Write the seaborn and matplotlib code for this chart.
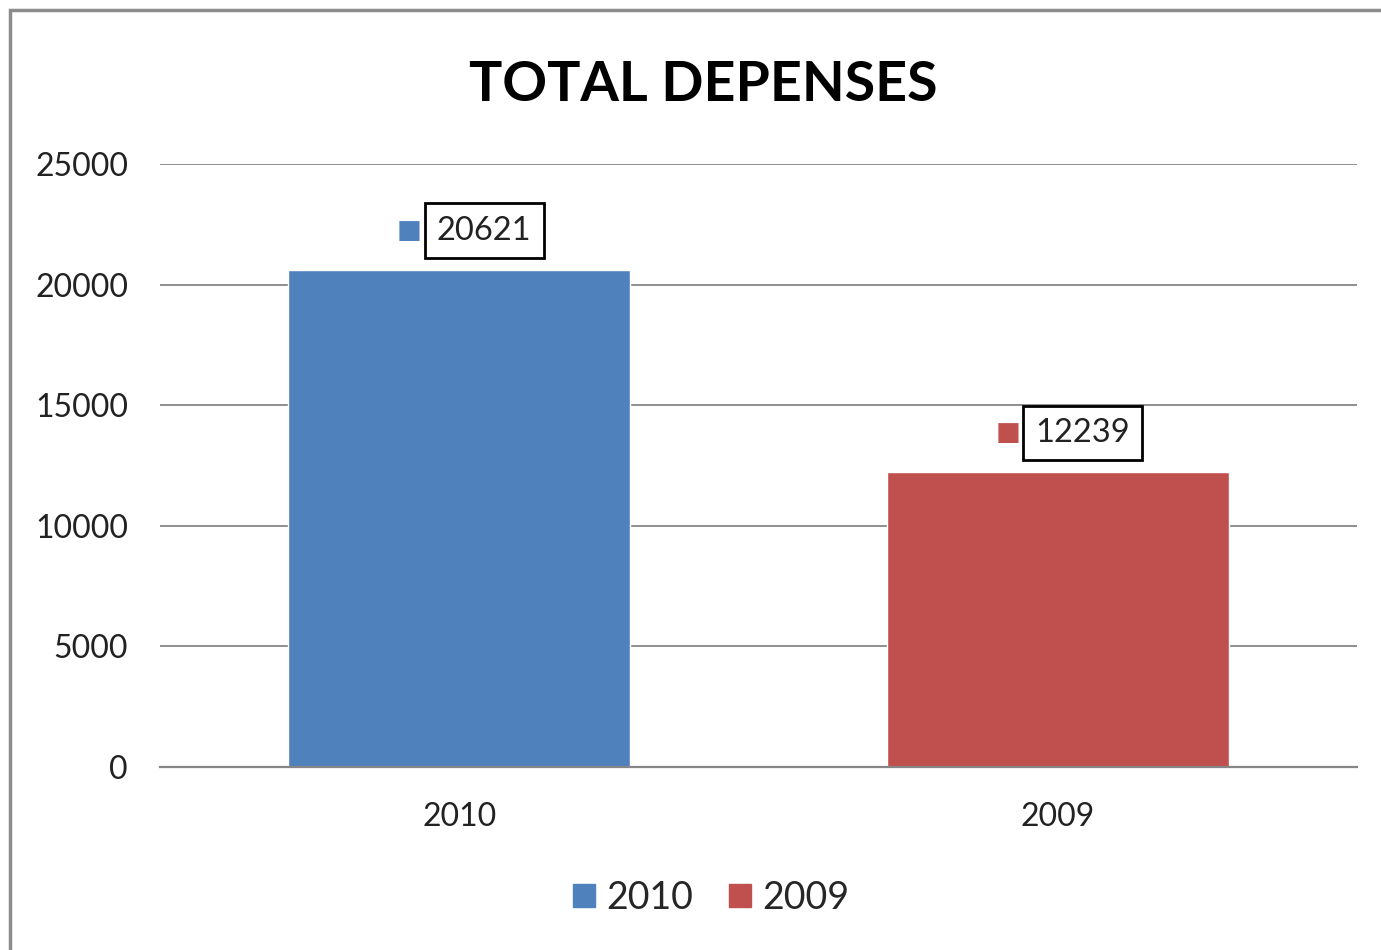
import seaborn as sns
import matplotlib.pyplot as plt
import pandas as pd
from matplotlib.patches import Rectangle

## Data
years = ['2010', '2009']
totals = [20621, 12239]
y_ticks = [0, 5000, 10000, 15000, 20000, 25000]

## Colors
colors = {'2010': '#4F81BD', '2009': '#C0504D'}
grid_color = '#868686'

df = pd.DataFrame({'annee': years, 'total': totals})

sns.set_style("white")
plt.rcParams['font.family'] = ['Lato', 'DejaVu Sans']

fig = plt.figure(figsize=(13.81, 9.5), dpi=100)
ax = fig.add_axes([0.1159, 0.1926, 0.8667, 0.6348])

sns.barplot(data=df, x='annee', y='total', hue='annee', palette=colors,
            width=0.571, dodge=False, legend=False, saturation=1, ax=ax)

ax.set_ylim(0, 25000)
ax.set_xlim(-0.5, 1.5)
ax.set_yticks(y_ticks)
ax.set_yticklabels([str(t) for t in y_ticks])
ax.yaxis.grid(True, color=grid_color, linewidth=1.3)
ax.set_axisbelow(True)
for side in ['left', 'right', 'top']:
    ax.spines[side].set_visible(False)
ax.spines['bottom'].set_color(grid_color)
ax.spines['bottom'].set_linewidth(1.6)
ax.tick_params(axis='both', length=0, labelsize=23, colors='#222222')
ax.tick_params(axis='y', pad=23)
ax.tick_params(axis='x', pad=25)
ax.set_xlabel('')
ax.set_ylabel('')

## Data labels (boxed value with legend key)
for i, (yr, val) in enumerate(zip(years, totals)):
    ax.annotate(str(val), xy=(i, val), xytext=(18, 28), textcoords='offset points',
                ha='center', va='center', fontsize=23.5, color='#222222',
                bbox=dict(boxstyle='square,pad=0.38', fc='white', ec='black', lw=2))
    ax.annotate('\u25A0', xy=(i, val), xytext=(-36, 28), textcoords='offset points',
                ha='center', va='center', fontsize=19, color=colors[yr],
                family=['DejaVu Sans'])

## Title
fig.text(0.509, 0.911, 'TOTAL DEPENSES', ha='center', va='center',
         fontsize=40, fontweight='bold', color='black')

## Legend
handles = [Rectangle((0, 0), 1, 1, color=colors[y]) for y in years]
fig.legend(handles, years, loc='center', bbox_to_anchor=(0.515, 0.055), ncol=2,
           frameon=False, fontsize=27, handlelength=0.6, handleheight=0.6,
           handletextpad=0.3, columnspacing=0.95)

## Chart frame (left and top edges visible)
fig.patches.append(Rectangle((10 / 1381, -0.1), 1.2, 1.1 - 10 / 950,
                             transform=fig.transFigure, fill=False,
                             ec='#8c8c8c', lw=2.5))

fig.savefig('out.png', dpi=100)
